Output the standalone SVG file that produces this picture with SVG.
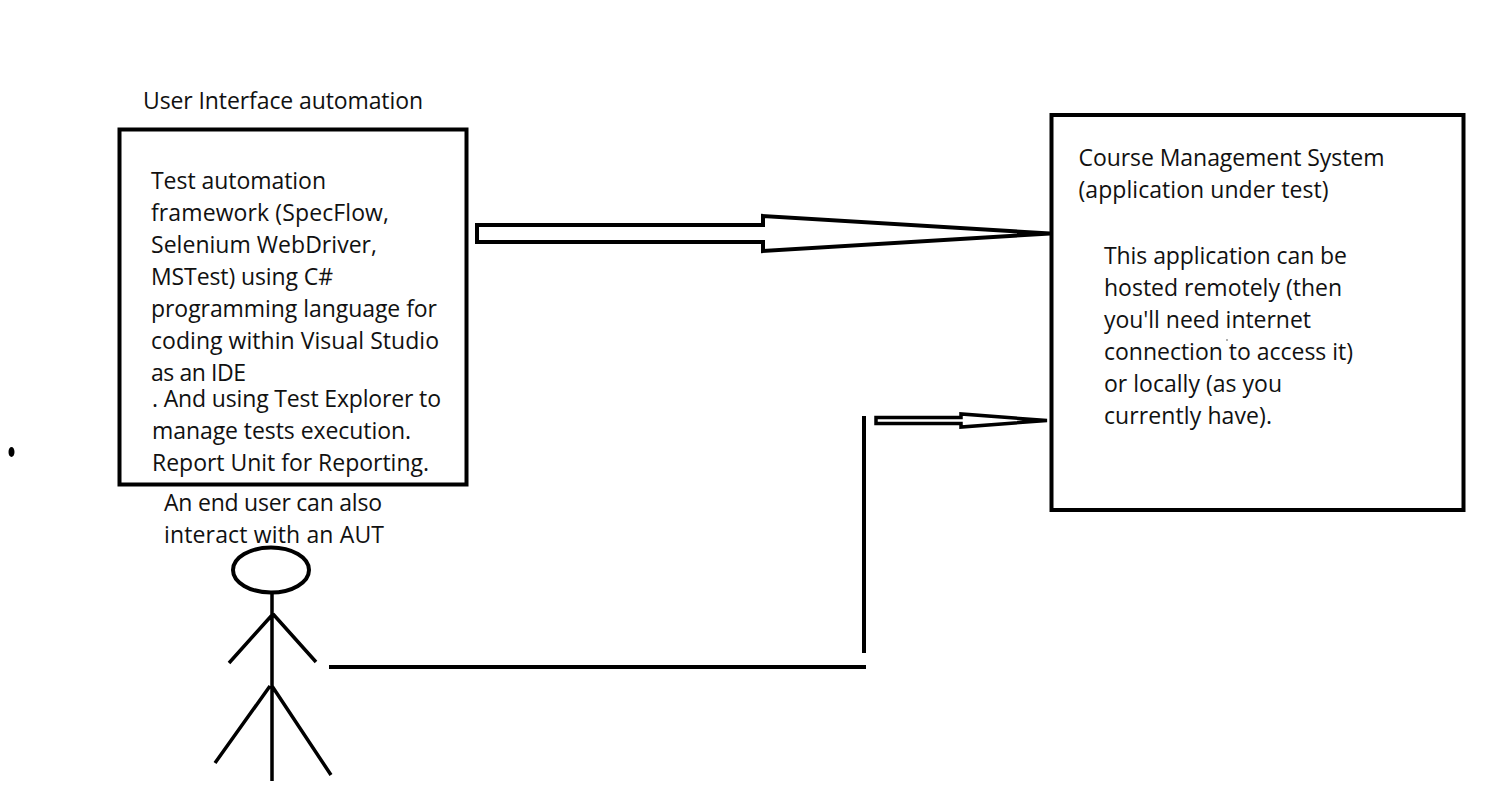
<svg xmlns="http://www.w3.org/2000/svg" width="1506" height="806" viewBox="0 0 1506 806">
<style>
text{font-family:"Open Sans","Noto Sans","Liberation Sans",sans-serif;font-size:23px;fill:#111}
.b{fill:none;stroke:#000;stroke-width:4}
.a{fill:#fff;stroke:#000;stroke-width:4;stroke-linejoin:miter;stroke-miterlimit:4}
.a2{fill:#fff;stroke:#000;stroke-width:3.500;stroke-linejoin:miter;stroke-miterlimit:4}
.l{fill:none;stroke:#000;stroke-width:4}
.s{fill:none;stroke:#000;stroke-width:3.500}
</style>
<rect width="1506" height="806" fill="#fff"/>
<text x="143" y="109" textLength="280">User Interface automation</text>
<g id="ui-node">
<rect class="b" x="119.500" y="129.500" width="347" height="355"/>
<text x="151" y="189" textLength="175">Test automation</text>
<text x="151" y="221" textLength="238">framework (SpecFlow,</text>
<text x="151" y="253" textLength="226">Selenium WebDriver,</text>
<text x="151" y="285" textLength="182">MSTest) using C#</text>
<text x="151" y="317" textLength="286">programming language for</text>
<text x="151" y="349" textLength="288">coding within Visual Studio</text>
<text x="151" y="381" textLength="95">as an IDE</text>
<text x="152" y="406.500" textLength="289">. And using Test Explorer to</text>
<text x="152" y="438.500" textLength="259">manage tests execution.</text>
<text x="152" y="470.500" textLength="277">Report Unit for Reporting.</text>
</g>
<g id="cms-node">
<rect class="b" x="1051.500" y="115" width="412" height="395"/>
<text x="1078.500" y="166" textLength="306">Course Management System</text>
<text x="1078.500" y="198" textLength="250">(application under test)</text>
<text x="1104" y="264" textLength="243">This application can be</text>
<text x="1104" y="296" textLength="238">hosted remotely (then</text>
<text x="1104" y="328" textLength="207">you'll need internet</text>
<text x="1104" y="360" textLength="249">connection to access it)</text>
<text x="1104" y="392" textLength="178">or locally (as you</text>
<text x="1104" y="424" textLength="168">currently have).</text>
<circle cx="1227" cy="340" r="0.700" fill="#222"/>
</g>
<g id="user-node">
<text x="164" y="510.500" textLength="218">An end user can also</text>
<text x="164" y="542.500" textLength="220">interact with an AUT</text>
<ellipse class="l" cx="271" cy="570" rx="38" ry="22.500"/>
<path class="s" d="M272 593V781M273 614L229 663M273 614L316 662M270 686L215 763M272 686L331 775"/>
</g>
<g id="connectors">
<path class="a" d="M477 225H763V216L1050 233.500L763 251V242H477Z"/>
<path class="a2" d="M876 417.500H961V414L1047 420.500L961 427V423.500H876Z"/>
<path class="l" d="M329 667H866M864 416V653"/>
</g>
<ellipse cx="11.500" cy="452" rx="3" ry="5"/>
</svg>
